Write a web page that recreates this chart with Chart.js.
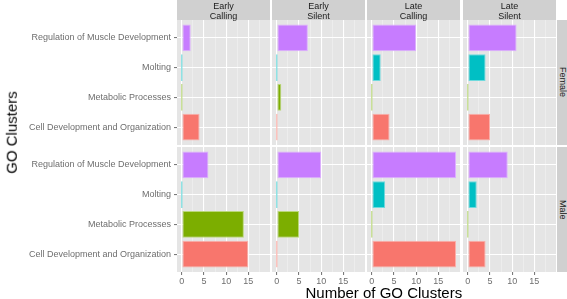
<!DOCTYPE html>
<html>
<head>
<meta charset="utf-8">
<script src="https://cdn.jsdelivr.net/npm/chart.js@4.4.1/dist/chart.umd.min.js"></script>
<style>
    html, body { margin: 0; padding: 0; background: #fff; }
    body { width: 567px; height: 299px; position: relative; overflow: hidden; font-family: "Liberation Sans", Arial, Helvetica, sans-serif; }
    canvas { position: absolute; }
    .strip { position: absolute; background: #d0d0d0; color: #1a1a1a; font-size: 9px; line-height: 9.5px; text-align: center; display: flex; align-items: center; justify-content: center; }
    .strip-y { writing-mode: vertical-rl; }
    .title { position: absolute; color: #000; font-size: 15px; white-space: nowrap; }
</style>
</head>
<body>
<script>
// GO cluster categories, bottom to top as in the plot
const categories = ['Cell Development and Organization', 'Metabolic Processes', 'Molting', 'Regulation of Muscle Development'];
const facetCols = ['Early Calling', 'Early Silent', 'Late Calling', 'Late Silent'];
const facetRows = ['Female', 'Male'];
const xTicks = [0, 5, 10, 15];
const xMinor = [2.5, 7.5, 12.5, 17.5];

// counts per panel, same order as categories
const femaleEarlyCalling = [4, 0, 0, 2];
const femaleEarlySilent = [0, 1, 0, 7];
const femaleLateCalling = [4, 0, 2, 10];
const femaleLateSilent = [5, 0, 4, 11];
const maleEarlyCalling = [15, 14, 0, 6];
const maleEarlySilent = [0, 5, 0, 10];
const maleLateCalling = [19, 0, 3, 19];
const maleLateSilent = [4, 0, 2, 9];

const panelValues = [
    [femaleEarlyCalling, femaleEarlySilent, femaleLateCalling, femaleLateSilent],
    [maleEarlyCalling, maleEarlySilent, maleLateCalling, maleLateSilent]
];

const barColors = ['#F8766D', '#7CAE00', '#00BFC4', '#C77CFF'];
const barEdges = ['#FBB0AA', '#BAD77A', '#6FDADD', '#DDB0FF'];

// layout (px)
const colLeft = [177, 272, 367, 463];
const panelW = 93;
const rowTop = [20, 147];
const panelH = 125;
const yAxisW = 177;
const xAxisH = 22;
const fontFamily = '"Liberation Sans", Arial, Helvetica, sans-serif';

const panelBg = {
    id: 'panelBg',
    beforeDraw(chart) {
        const a = chart.chartArea;
        const ctx = chart.ctx;
        ctx.save();
        ctx.fillStyle = '#E5E5E5';
        ctx.fillRect(a.left, a.top, a.right - a.left, a.bottom - a.top);
        ctx.restore();
    }
};

// keep label overhang from shrinking the panel
function noPad(s) {
    s.paddingTop = 0;
    s.paddingBottom = 0;
    s.paddingLeft = 0;
    s.paddingRight = 0;
}

function makePanel(r, c) {
    const isLeft = c === 0;
    const isBottom = r === facetRows.length - 1;
    const canvas = document.createElement('canvas');
    const w = panelW + (isLeft ? yAxisW : 0);
    const h = panelH + (isBottom ? xAxisH : 0);
    canvas.width = w;
    canvas.height = h;
    canvas.style.left = (isLeft ? colLeft[c] - yAxisW : colLeft[c]) + 'px';
    canvas.style.top = rowTop[r] + 'px';
    document.body.appendChild(canvas);

    const values = panelValues[r][c];
    const gridVals = xTicks.concat(xMinor).sort((a, b) => a - b);

    new Chart(canvas, {
        type: 'bar',
        data: {
            datasets: [{
                data: values.map((v, i) => ({ x: v, y: i })),
                backgroundColor: barColors,
                borderColor: barEdges,
                borderWidth: 1,
                borderSkipped: false,
                barPercentage: 0.9,
                categoryPercentage: 1,
                minBarLength: 1.5
            }]
        },
        options: {
            indexAxis: 'y',
            responsive: false,
            animation: false,
            events: [],
            layout: { padding: 0, autoPadding: false },
            plugins: { legend: { display: false }, tooltip: { enabled: false } },
            scales: {
                x: {
                    type: 'linear',
                    min: -1.1,
                    max: 19.9,
                    offset: false,
                    afterBuildTicks: s => { s.ticks = gridVals.map(v => ({ value: v })); },
                    afterFit: s => { s.height = isBottom ? xAxisH : 0; noPad(s); },
                    border: { display: false },
                    grid: {
                        offset: false,
                        color: ctx => xTicks.includes(ctx.tick.value) ? '#FFFFFF' : '#F2F2F2',
                        lineWidth: ctx => xTicks.includes(ctx.tick.value) ? 1.1 : 0.6,
                        tickLength: 3,
                        tickColor: ctx => xTicks.includes(ctx.tick.value) ? '#7a7a7a' : 'rgba(0,0,0,0)'
                    },
                    ticks: {
                        display: isBottom,
                        autoSkip: false,
                        maxRotation: 0,
                        padding: 1,
                        color: '#6e6e6e',
                        font: { size: 9, family: fontFamily },
                        callback: v => xTicks.includes(v) ? String(v) : ''
                    }
                },
                y: {
                    type: 'linear',
                    min: -0.6,
                    max: categories.length - 0.4,
                    offset: false,
                    afterBuildTicks: s => { s.ticks = categories.map((name, i) => ({ value: i })); },
                    afterFit: s => { s.width = isLeft ? yAxisW : 0; noPad(s); },
                    border: { display: false },
                    grid: { offset: false, color: '#FFFFFF', lineWidth: 1.1, tickLength: 3, tickColor: '#7a7a7a' },
                    ticks: {
                        display: isLeft,
                        autoSkip: false,
                        padding: 3,
                        color: '#6e6e6e',
                        font: { size: 9, family: fontFamily },
                        callback: v => categories[v]
                    }
                }
            }
        },
        plugins: [panelBg]
    });
}

for (let r = 0; r < facetRows.length; r++) {
    for (let c = 0; c < facetCols.length; c++) {
        makePanel(r, c);
    }
}

// facet strips
facetCols.forEach((name, c) => {
    const d = document.createElement('div');
    d.className = 'strip';
    d.style.left = colLeft[c] + 'px';
    d.style.top = '0px';
    d.style.width = panelW + 'px';
    d.style.height = '20px';
    d.style.paddingTop = '3px';
    d.style.boxSizing = 'border-box';
    d.innerHTML = name.split(' ').join('<br>');
    document.body.appendChild(d);
});
facetRows.forEach((name, r) => {
    const d = document.createElement('div');
    d.className = 'strip strip-y';
    d.style.left = '557px';
    d.style.top = rowTop[r] + 'px';
    d.style.width = '10px';
    d.style.height = panelH + 'px';
    d.textContent = name;
    document.body.appendChild(d);
});

// axis titles
const xt = document.createElement('div');
xt.className = 'title';
xt.textContent = 'Number of GO Clusters';
document.body.appendChild(xt);
xt.style.left = (384 - xt.offsetWidth / 2) + 'px';
xt.style.top = (292 - xt.offsetHeight / 2) + 'px';

const yt = document.createElement('div');
yt.className = 'title';
yt.textContent = 'GO Clusters';
document.body.appendChild(yt);
yt.style.left = (11 - yt.offsetWidth / 2) + 'px';
yt.style.top = (132 - yt.offsetHeight / 2) + 'px';
yt.style.transform = 'rotate(-90deg)';
</script>
</body>
</html>
